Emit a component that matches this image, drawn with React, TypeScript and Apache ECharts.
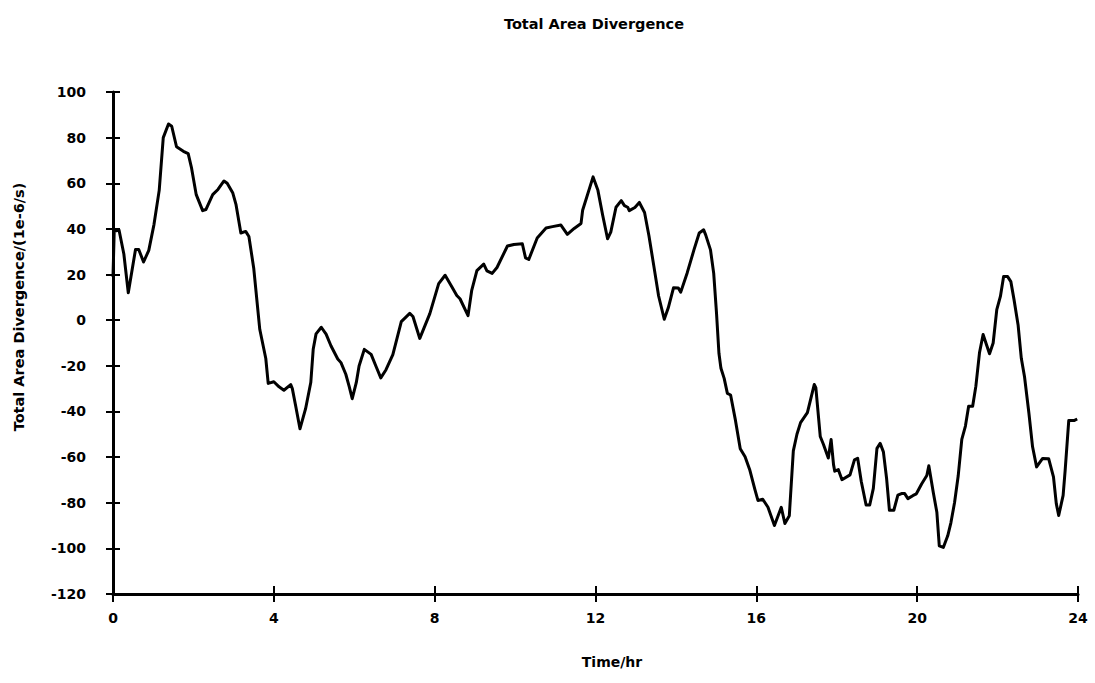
import React, { useEffect, useRef } from 'react';
import * as echarts from 'echarts';

// Time (hours) and total area divergence (1e-6/s)
const times = [
  0.0, 0.03, 0.15, 0.27, 0.38, 0.56, 0.64, 0.76, 0.89, 1.02, 1.15, 1.25, 1.38, 1.46, 1.58, 1.75, 1.87, 1.95,
  2.07, 2.23, 2.31, 2.48, 2.61, 2.76, 2.84, 2.98, 3.06, 3.18, 3.3, 3.38, 3.5, 3.65, 3.8, 3.86, 4.0, 4.13,
  4.25, 4.42, 4.46, 4.54, 4.65, 4.79, 4.92, 4.98, 5.05, 5.18, 5.3, 5.42, 5.59, 5.67, 5.79, 5.87, 5.95, 6.05,
  6.12, 6.25, 6.42, 6.54, 6.66, 6.79, 6.96, 7.17, 7.38, 7.46, 7.63, 7.88, 8.1, 8.26, 8.43, 8.55, 8.63, 8.83,
  8.92, 9.05, 9.22, 9.3, 9.43, 9.55, 9.81, 9.97, 10.18, 10.26, 10.34, 10.55, 10.77, 10.93, 11.14, 11.3, 11.47,
  11.64, 11.68, 11.94, 12.06, 12.18, 12.3, 12.38, 12.51, 12.64, 12.72, 12.8, 12.84, 12.98, 13.09, 13.22, 13.33,
  13.45, 13.57, 13.71, 13.81, 13.94, 14.06, 14.12, 14.28, 14.45, 14.58, 14.69, 14.74, 14.86, 14.94, 15.01,
  15.07, 15.12, 15.2, 15.28, 15.36, 15.48, 15.6, 15.72, 15.84, 15.96, 16.04, 16.16, 16.29, 16.45, 16.62, 16.71,
  16.82, 16.92, 17.01, 17.1, 17.27, 17.44, 17.48, 17.59, 17.67, 17.79, 17.86, 17.92, 17.95, 18.04, 18.13, 18.33,
  18.44, 18.52, 18.61, 18.73, 18.82, 18.91, 19.0, 19.08, 19.16, 19.24, 19.31, 19.42, 19.52, 19.61, 19.69, 19.77,
  19.9, 19.98, 20.11, 20.24, 20.29, 20.4, 20.49, 20.55, 20.65, 20.76, 20.84, 20.93, 21.02, 21.11, 21.2, 21.28,
  21.38, 21.46, 21.55, 21.64, 21.71, 21.8, 21.89, 21.98, 22.07, 22.15, 22.25, 22.33, 22.41, 22.51, 22.59, 22.67,
  22.78, 22.87, 22.97, 23.12, 23.27, 23.39, 23.46, 23.52, 23.63, 23.68, 23.77, 23.9, 23.98,
];

const values = [
  19, 39, 39.5, 29, 12, 31, 31, 25.5, 30.6, 42, 57, 80, 86, 85, 76, 74, 73, 67,
  55, 48, 48.5, 55, 57.3, 61, 60, 55.7, 50.6, 38.2, 38.9, 36.7, 22.8, -4, -16.8, -27.7, -27, -29.2,
  -30.7, -28.2, -30, -37.3, -47.6, -38.8, -27.2, -12.6, -6, -3.1, -6.1, -11.2, -17, -18.6, -23.7, -28.8, -34.4, -27.4,
  -20.1, -12.8, -15, -20.2, -25.3, -21.7, -15.1, -0.6, 3, 1.6, -8, 2.9, 16, 19.7, 14.5, 10.8, 9.4, 2,
  12.9, 21.7, 24.6, 21.6, 20.5, 23.1, 32.5, 33.2, 33.5, 27.3, 26.6, 36, 40.4, 41, 41.7, 37.6, 40.2,
  42.4, 48.2, 62.8, 56.9, 45.9, 35.7, 38.6, 49.5, 52.4, 50.2, 49.5, 48, 49.4, 51.6, 47.2, 36.9,
  23.8, 10.6, 0.4, 5.4, 14.2, 14.1, 12.3, 20.7, 30.9, 38.2, 39.6, 37.4, 30.8, 20.5, 3,
  -14.5, -21.1, -25.5, -32.1, -32.8, -43.8, -56.3, -59.9, -65.8, -73.9, -79, -78.5, -82, -90, -82, -89.1,
  -85.7, -57.3, -50, -44.9, -40.5, -28.2, -29.6, -51, -54.5, -60.4, -52.3, -63.3, -66.2, -65.5, -69.9, -67.8,
  -61.2, -60.5, -70.7, -81, -81, -73.7, -56.2, -54, -57.7, -69.4, -83.3, -83.3, -76.7, -76, -76, -78.2,
  -76.8, -76.1, -71.8, -68.1, -63.8, -75.4, -84.2, -98.9, -99.6, -94.5, -88.7, -79.9, -68.3, -52.2, -46.4, -37.7,
  -37.7, -28.9, -14.3, -6.3, -10, -14.7, -10, 4.6, 10.4, 19.1, 19.1, 16.9, 8.9, -2.1, -16.7, -24.8,
  -40.9, -55.5, -64.3, -60.6, -60.7, -68.7, -80.4, -85.6, -76.8, -65.9, -44, -44, -43.3,
];

const chartTitle = 'Total Area Divergence';
const xAxisTitle = 'Time/hr';
const yAxisTitle = 'Total Area Divergence/(1e-6/s)';

export default function App() {
  const ref = useRef<HTMLDivElement>(null);

  useEffect(() => {
    if (!ref.current) return;
    const chart = echarts.init(ref.current, null, { renderer: 'svg' });
    const font = 'DejaVu Sans';
    const labelStyle = { color: '#000', fontFamily: font, fontSize: 14, fontWeight: 'bold' as const };
    const data = times.map((t, i) => [t, values[i]]);

    chart.setOption({
      animation: false,
      backgroundColor: '#fff',
      title: {
        text: chartTitle,
        left: 589,
        top: 11,
        textAlign: 'center',
        textStyle: { color: '#000', fontFamily: font, fontSize: 14.5, fontWeight: 'bold' },
      },
      grid: { left: 113, right: 17, top: 92, bottom: 89, containLabel: false },
      xAxis: [
        {
          type: 'value',
          min: 0,
          max: 24,
          interval: 4,
          axisLine: { show: true, onZero: false, lineStyle: { color: '#000', width: 3 } },
          axisTick: { show: true, length: 8, lineStyle: { color: '#000', width: 2 } },
          axisLabel: { ...labelStyle, margin: 17 },
          splitLine: { show: false },
        },
        {
          type: 'value',
          position: 'bottom',
          min: 0,
          max: 24,
          interval: 4,
          axisLine: { show: false, onZero: false },
          axisTick: { show: true, inside: true, length: 8, lineStyle: { color: '#000', width: 2 } },
          axisLabel: { show: false },
          splitLine: { show: false },
        },
      ],
      yAxis: [
        {
          type: 'value',
          min: -120,
          max: 100,
          interval: 20,
          axisLine: { show: true, onZero: false, lineStyle: { color: '#000', width: 3 } },
          axisTick: { show: true, length: 7, lineStyle: { color: '#000', width: 2 } },
          axisLabel: { ...labelStyle, margin: 27 },
          splitLine: { show: false },
        },
        {
          type: 'value',
          position: 'left',
          min: -120,
          max: 100,
          interval: 20,
          axisLine: { show: false, onZero: false },
          axisTick: { show: true, inside: true, length: 7, lineStyle: { color: '#000', width: 2 } },
          axisLabel: { show: false },
          splitLine: { show: false },
        },
      ],
      graphic: [
        {
          type: 'text',
          x: 612,
          y: 662,
          style: {
            text: xAxisTitle,
            fill: '#000',
            font: `bold 14px "${font}"`,
            align: 'center',
            verticalAlign: 'middle',
          },
        },
        {
          type: 'text',
          x: 19,
          y: 307,
          rotation: Math.PI / 2,
          style: {
            text: yAxisTitle,
            fill: '#000',
            font: `bold 14.5px "${font}"`,
            align: 'center',
            verticalAlign: 'middle',
          },
        },
      ],
      series: [
        {
          type: 'line',
          xAxisIndex: 0,
          yAxisIndex: 0,
          data,
          showSymbol: false,
          symbol: 'none',
          lineStyle: { color: '#000', width: 3, join: 'round' },
          silent: true,
        },
      ],
    });

    return () => chart.dispose();
  }, []);

  return (
    <div
      ref={ref}
      style={{ position: 'absolute', left: 0, top: 0, width: 1095, height: 683, background: '#fff' }}
    />
  );
}
